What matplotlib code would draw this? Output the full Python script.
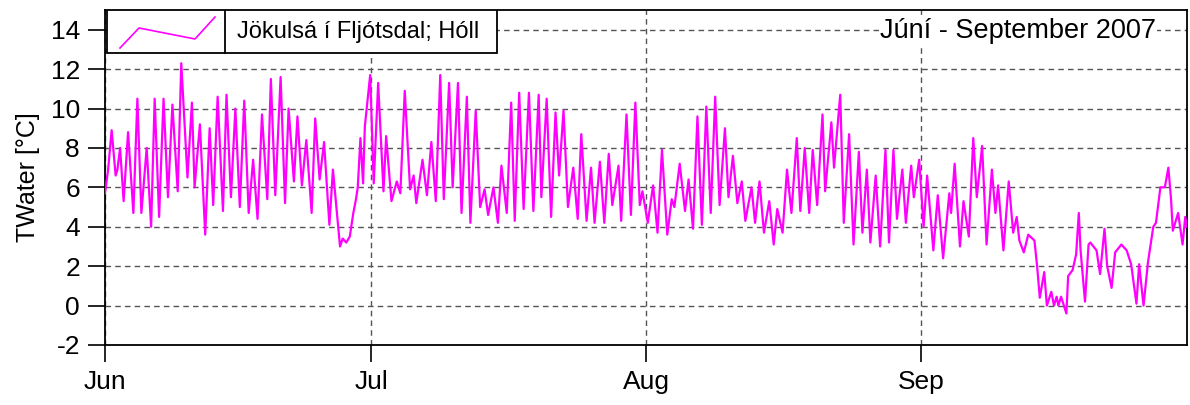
import matplotlib
matplotlib.use("Agg")
import matplotlib.pyplot as plt
import pandas as pd
import numpy as np
from matplotlib.patches import Rectangle

plt.rcParams['font.family'] = ['Liberation Sans', 'DejaVu Sans']
plt.rcParams['axes.unicode_minus'] = False

# Hourly water temperature (time in days after 1 June 2007)
t_days = [
    0.0, 0.35, 0.75, 1.2, 1.4, 1.7, 2.1, 2.6, 3.2, 3.65, 4.1, 4.7, 5.2, 5.6, 6.1, 6.6, 7.1, 7.6, 8.2, 8.6,
    9.3, 9.8, 10.1, 10.7, 11.3, 11.8, 12.2, 12.7, 13.3, 13.7, 14.2, 14.7, 15.2, 15.7, 16.2, 16.7, 17.2, 17.7,
    18.3, 18.7, 19.2, 19.8, 20.3, 20.7, 21.3, 21.7, 22.2, 22.7, 23.3, 23.7, 24.2, 24.7, 25.3, 25.7, 26.5,
    26.8, 27.2, 27.6, 28.0, 28.3, 28.5, 28.8, 29.1, 29.3, 29.9, 30.3, 30.8, 31.4, 31.7, 32.3, 32.9, 33.3,
    33.8, 34.4, 34.8, 35.1, 35.8, 36.3, 36.8, 37.3, 37.8, 38.2, 38.8, 39.2, 39.8, 40.2, 40.8, 41.2, 41.8,
    42.3, 42.8, 43.2, 43.8, 44.3, 44.7, 45.3, 45.8, 46.2, 46.7, 47.2, 47.8, 48.3, 48.9, 49.2, 49.8, 50.3,
    50.8, 51.2, 51.7, 52.2, 52.8, 53.3, 53.7, 54.3, 54.8, 55.2, 55.8, 56.3, 56.8, 57.2, 57.9, 58.2, 58.8,
    59.3, 59.8, 60.3, 60.6, 61.2, 61.8, 62.3, 62.8, 63.4, 63.9, 64.2, 64.8, 65.4, 65.8, 66.3, 66.8, 67.3,
    67.8, 68.3, 68.8, 69.3, 69.9, 70.3, 70.8, 71.3, 71.8, 72.2, 72.9, 73.3, 73.8, 74.3, 74.9, 75.4, 75.8,
    76.4, 76.9, 77.4, 78.0, 78.4, 78.9, 79.4, 79.8, 80.3, 80.9, 81.2, 81.9, 82.2, 82.9, 83.3, 83.9, 84.4,
    85.0, 85.4, 85.9, 86.3, 86.9, 87.4, 88.0, 88.4, 88.9, 89.3, 89.9, 90.3, 90.9, 91.2, 91.8, 92.3, 92.7,
    93.4, 93.9, 94.5, 95.2, 95.4, 95.8, 96.4, 96.8, 97.4, 97.9, 98.3, 98.9, 99.4, 100.0, 100.4, 100.7,
    101.3, 101.9, 102.4, 102.8, 103.1, 103.6, 104.1, 104.8, 105.1, 105.4, 105.9, 106.2, 106.7, 107.0,
    107.3, 107.5, 107.8, 108.4, 108.6, 109.1, 109.5, 109.8, 110.0, 110.5, 110.9, 111.1, 111.8, 112.2,
    112.7, 113.0, 113.5, 113.9, 114.6, 115.2, 115.7, 116.3, 116.6, 117.1, 117.6, 118.2, 118.5, 119.0,
    119.5, 119.9, 120.2, 120.4, 121.0, 121.5, 121.8, 122.0,
]
twater = [
    5.7, 6.9, 8.9, 6.6, 6.9, 8.0, 5.3, 8.8, 4.7, 10.5, 4.7, 8.0, 4.0, 10.5, 4.5, 10.5, 5.5, 10.2, 5.8, 12.3,
    6.5, 10.3, 6.0, 9.2, 3.6, 9.0, 5.1, 10.6, 4.8, 10.7, 5.5, 10.0, 5.0, 10.4, 4.7, 7.4, 4.4, 9.7,
    5.4, 11.5, 5.6, 11.6, 5.2, 10.0, 6.3, 9.6, 6.1, 8.4, 4.7, 9.5, 6.4, 8.3, 4.1, 6.9, 3.0,
    3.4, 3.2, 3.5, 4.7, 5.4, 6.0, 8.5, 6.2, 9.1, 11.7, 6.2, 11.3, 5.8, 8.6, 5.3, 6.3, 5.7,
    10.9, 5.9, 6.6, 5.2, 7.4, 5.6, 8.3, 5.3, 11.7, 5.4, 11.3, 6.0, 11.3, 4.7, 10.6, 4.2, 9.9,
    5.0, 5.9, 4.6, 6.0, 4.2, 7.1, 4.7, 10.3, 4.3, 10.8, 4.9, 10.8, 4.8, 10.7, 5.5, 10.5, 4.5,
    9.8, 6.6, 9.9, 5.0, 7.0, 4.4, 8.7, 4.3, 7.0, 4.2, 7.3, 4.2, 7.7, 5.1, 7.1, 4.3, 9.7,
    4.6, 10.3, 5.1, 5.8, 4.2, 6.1, 3.7, 7.9, 3.6, 5.4, 5.0, 7.2, 4.8, 6.4, 3.9, 9.6, 4.1,
    10.1, 4.7, 10.6, 5.1, 9.0, 5.5, 7.6, 5.2, 6.3, 4.3, 6.0, 4.2, 6.3, 3.7, 5.3, 3.1, 4.9,
    3.7, 6.9, 4.7, 8.5, 4.8, 8.0, 4.7, 7.9, 5.1, 9.7, 5.8, 9.3, 7.0, 10.7, 4.2, 8.7, 3.1,
    7.8, 3.7, 6.9, 3.2, 6.6, 3.0, 7.9, 3.2, 7.9, 4.4, 6.9, 4.2, 7.1, 5.5, 7.4, 4.0, 6.6,
    2.8, 5.6, 2.4, 5.7, 4.7, 7.2, 3.0, 5.3, 3.5, 8.5, 5.5, 8.1, 3.1, 6.9, 4.7, 6.1,
    2.8, 6.3, 3.7, 4.5, 3.3, 2.7, 3.6, 3.3, 2.0, 0.4, 1.7, 0.0, 0.7, 0.0,
    0.45, 0.0, 0.45, -0.4, 1.5, 1.8, 2.6, 4.7, 2.8, 0.2, 3.1, 3.2, 2.8, 1.6,
    3.9, 2.0, 0.9, 2.7, 3.1, 2.8, 2.1, 0.1, 2.1, 0.0, 2.2, 4.0, 4.2, 6.0,
    6.0, 7.0, 5.4, 3.8, 4.7, 3.1, 4.5, 4.0,
]
y_ticks = [-2, 0, 2, 4, 6, 8, 10, 12, 14]
month_starts = ["2007-06-01", "2007-07-01", "2007-08-01", "2007-09-01"]
month_labels = ["Jun", "Jul", "Aug", "Sep"]
series_name = "Jökulsá í Fljótsdal; Hóll"
period_text = "Júní - September 2007"
y_label = "TWater [°C]"

start = pd.Timestamp("2007-06-01")
end = pd.Timestamp("2007-10-01")
times = start + pd.to_timedelta(np.array(t_days), unit="D")

W, H = 1190, 405
L, R, T, B = 105, 1187, 10, 345
fig = plt.figure(figsize=(W / 100, H / 100), dpi=100)
ax = fig.add_axes([L / W, 1 - B / H, (R - L) / W, (B - T) / H])

ax.plot(times, twater, color="#FF00FF", lw=1.6, zorder=3)

ax.set_xlim(start, end)
ax.set_ylim(-2, 15)
ax.set_yticks(y_ticks)
ax.set_yticklabels([str(v) for v in y_ticks])
ax.set_xticks(pd.to_datetime(month_starts))
ax.set_xticklabels(month_labels)
ax.grid(True, color="#555555", linestyle=(0, (4, 3)), linewidth=1.0)
ax.tick_params(axis="y", direction="out", length=12, width=1.2, labelsize=19, pad=6)
ax.tick_params(axis="x", direction="out", length=12, width=1.2, labelsize=19, pad=6)
for s in ax.spines.values():
    s.set_linewidth(1.3)
ax.set_ylabel(y_label, fontsize=18, labelpad=8)

def px(x, y):
    return ((x - L) / (R - L), (B - y) / (B - T))

# legend box (custom, like the original)
lg_x0, lg_x1, lg_y0, lg_y1, lg_div = 107, 497, 10, 53, 225
x0, y0 = px(lg_x0, lg_y1)
x1, y1 = px(lg_x1, lg_y0)
ax.add_patch(Rectangle((x0, y0), x1 - x0, y1 - y0, transform=ax.transAxes,
                       facecolor="white", edgecolor="black", lw=1.3, zorder=5))
xd, _ = px(lg_div, 0)
ax.plot([xd, xd], [y0, y1], transform=ax.transAxes, color="black", lw=1.3, zorder=6)
sample = [px(120, 48), px(139, 28), px(195, 39), px(215, 17)]
ax.plot([p[0] for p in sample], [p[1] for p in sample], transform=ax.transAxes,
        color="#FF00FF", lw=1.2, zorder=6)
tx, ty = px(237, 32)
ax.text(tx, ty, series_name, transform=ax.transAxes, fontsize=17, va="center", ha="left", zorder=7)

px_, py_ = px(1156, 31)
ax.text(px_, py_, period_text, transform=ax.transAxes, fontsize=19.5, va="center", ha="right",
        zorder=7, bbox=dict(facecolor="white", edgecolor="none", pad=1))

fig.savefig("out.png", dpi=100)
